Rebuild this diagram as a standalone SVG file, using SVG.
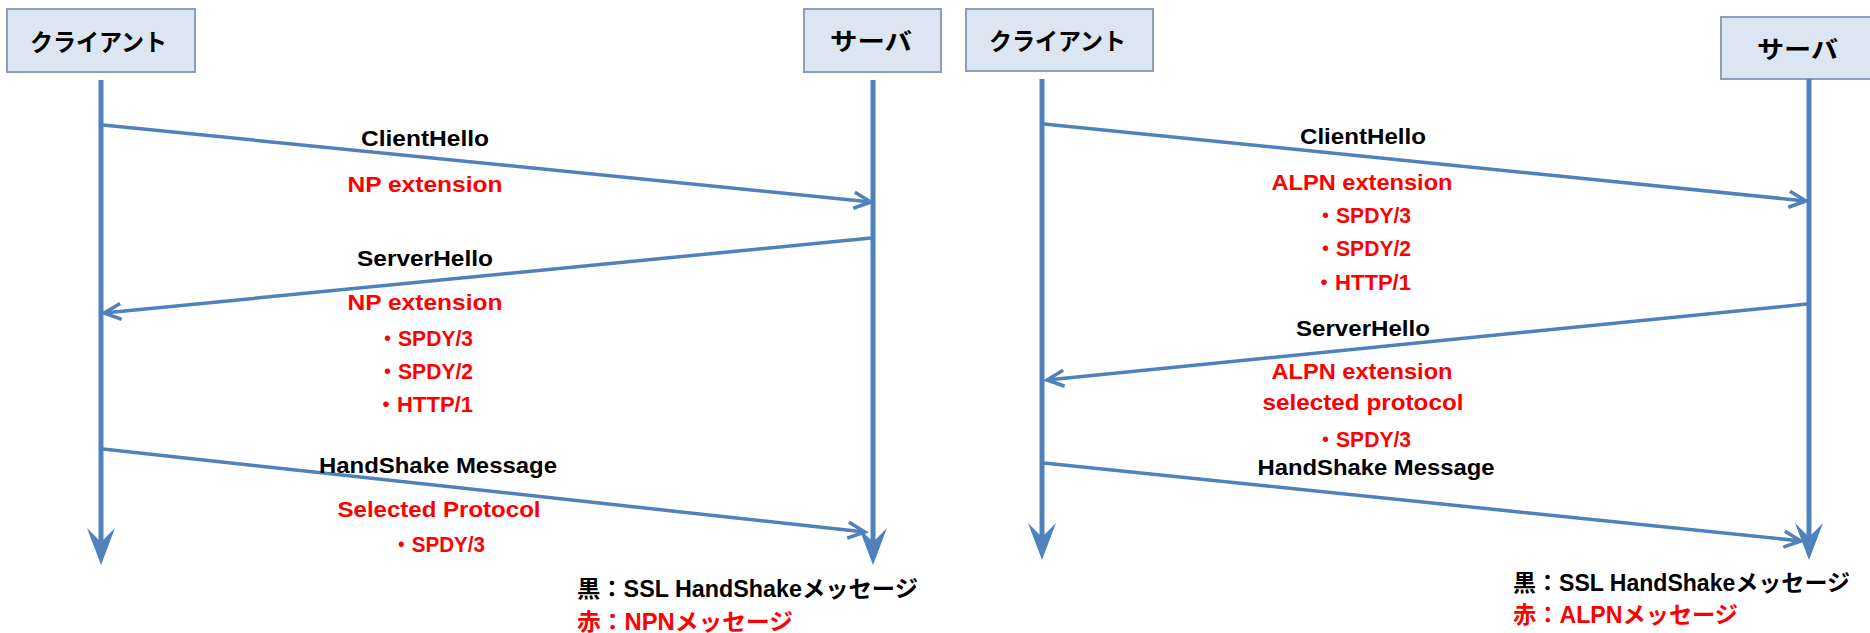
<svg xmlns="http://www.w3.org/2000/svg" width="1870" height="633" viewBox="0 0 1870 633">
<style>
.box{fill:#DCE6F2;stroke:#8C9FB8;stroke-width:2}
.jp{font-family:"Noto Sans CJK JP","Liberation Sans",sans-serif;font-weight:bold;font-size:24px;fill:#000}
.t{font-family:"Liberation Sans","Noto Sans CJK JP",sans-serif;font-weight:bold;font-size:22px;text-anchor:middle}
.k{fill:#000}
.r{fill:#FF0000}
.lg{font-family:"Liberation Sans","Noto Sans CJK JP",sans-serif;font-weight:bold;font-size:23px}
.life{stroke:#4F81BD;stroke-width:5;fill:none;marker-end:url(#stealth)}
.msg{stroke:#4F81BD;stroke-width:3.5;fill:none;marker-end:url(#open)}
</style>
<defs>
<marker id="open" markerUnits="userSpaceOnUse" markerWidth="40" markerHeight="40" refX="0" refY="0" orient="auto" style="overflow:visible">
<path d="M-17,-8 L0,0 L-17,8" fill="none" stroke="#4F81BD" stroke-width="3.5" stroke-linejoin="miter"/>
</marker>
<marker id="stealth" markerUnits="userSpaceOnUse" markerWidth="60" markerHeight="60" refX="0" refY="0" orient="auto" style="overflow:visible">
<path d="M20,0 L-17,-14 L-3,0 L-17,14 Z" fill="#4F81BD"/>
</marker>
</defs>

<g id="left-client">
<rect class="box" x="7" y="9" width="188" height="63"/>
<text class="jp" x="30" y="51" textLength="137" lengthAdjust="spacingAndGlyphs">クライアント</text>
</g>
<g id="left-server">
<rect class="box" x="804" y="9" width="137" height="63"/>
<text class="jp" x="830" y="50" textLength="82" lengthAdjust="spacingAndGlyphs">サーバ</text>
</g>
<g id="right-client">
<rect class="box" x="966" y="9" width="187" height="62"/>
<text class="jp" x="989" y="50" textLength="137" lengthAdjust="spacingAndGlyphs">クライアント</text>
</g>
<g id="right-server">
<rect class="box" x="1721" y="17" width="160" height="62"/>
<text class="jp" x="1757" y="58" textLength="81" lengthAdjust="spacingAndGlyphs">サーバ</text>
</g>

<g id="connectors">
<line class="life" x1="101" y1="80" x2="101" y2="545"/>
<line class="life" x1="873" y1="80" x2="873" y2="545"/>
<line class="life" x1="1042" y1="79" x2="1042" y2="540"/>
<line class="life" x1="1809" y1="79" x2="1809" y2="540"/>

<line class="msg" x1="103" y1="125" x2="871" y2="202"/>
<line class="msg" x1="871" y1="238" x2="104" y2="313"/>
<line class="msg" x1="103" y1="449" x2="865" y2="532"/>

<line class="msg" x1="1044" y1="124" x2="1806" y2="201"/>
<line class="msg" x1="1807" y1="304" x2="1047" y2="380"/>
<line class="msg" x1="1044" y1="463" x2="1801" y2="541"/>
</g>

<g id="left-labels">
<text class="t k" x="425" y="146" textLength="128" lengthAdjust="spacingAndGlyphs">ClientHello</text>
<text class="t r" x="425" y="192" textLength="155" lengthAdjust="spacingAndGlyphs">NP extension</text>
<text class="t k" x="425" y="266" textLength="136" lengthAdjust="spacingAndGlyphs">ServerHello</text>
<text class="t r" x="425" y="310" textLength="155" lengthAdjust="spacingAndGlyphs">NP extension</text>
<text class="t r" x="425" y="346" textLength="96" lengthAdjust="spacingAndGlyphs">・SPDY/3</text>
<text class="t r" x="425" y="379" textLength="96" lengthAdjust="spacingAndGlyphs">・SPDY/2</text>
<text class="t r" x="424" y="412" textLength="98" lengthAdjust="spacingAndGlyphs">・HTTP/1</text>
<text class="t k" x="438" y="473" textLength="238" lengthAdjust="spacingAndGlyphs">HandShake Message</text>
<text class="t r" x="439" y="517" textLength="203" lengthAdjust="spacingAndGlyphs">Selected Protocol</text>
<text class="t r" x="438" y="552" textLength="94" lengthAdjust="spacingAndGlyphs">・SPDY/3</text>
</g>

<g id="right-labels">
<text class="t k" x="1363" y="144" textLength="126" lengthAdjust="spacingAndGlyphs">ClientHello</text>
<text class="t r" x="1362" y="190" textLength="181" lengthAdjust="spacingAndGlyphs">ALPN extension</text>
<text class="t r" x="1363" y="223" textLength="96" lengthAdjust="spacingAndGlyphs">・SPDY/3</text>
<text class="t r" x="1363" y="256" textLength="96" lengthAdjust="spacingAndGlyphs">・SPDY/2</text>
<text class="t r" x="1362" y="290" textLength="98" lengthAdjust="spacingAndGlyphs">・HTTP/1</text>
<text class="t k" x="1363" y="336" textLength="134" lengthAdjust="spacingAndGlyphs">ServerHello</text>
<text class="t r" x="1362" y="379" textLength="181" lengthAdjust="spacingAndGlyphs">ALPN extension</text>
<text class="t r" x="1363" y="410" textLength="201" lengthAdjust="spacingAndGlyphs">selected protocol</text>
<text class="t r" x="1363" y="447" textLength="96" lengthAdjust="spacingAndGlyphs">・SPDY/3</text>
<text class="t k" x="1376" y="475" textLength="237" lengthAdjust="spacingAndGlyphs">HandShake Message</text>
</g>

<g id="left-legend">
<text class="lg k" x="577" y="597" textLength="341" lengthAdjust="spacingAndGlyphs">黒：SSL HandShakeメッセージ</text>
<text class="lg r" x="577" y="630" textLength="216" lengthAdjust="spacingAndGlyphs">赤：NPNメッセージ</text>
</g>
<g id="right-legend">
<text class="lg k" x="1513" y="591" textLength="337" lengthAdjust="spacingAndGlyphs">黒：SSL HandShakeメッセージ</text>
<text class="lg r" x="1513" y="623" textLength="225" lengthAdjust="spacingAndGlyphs">赤：ALPNメッセージ</text>
</g>
</svg>
